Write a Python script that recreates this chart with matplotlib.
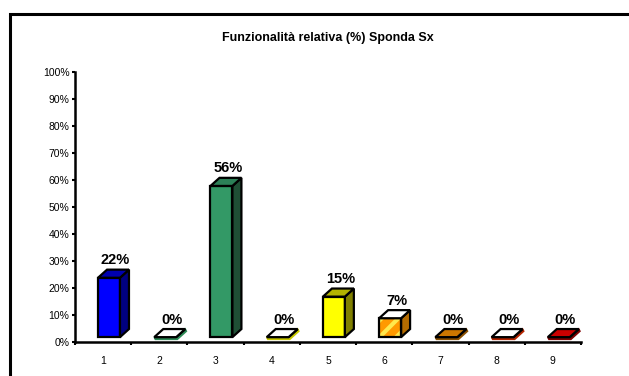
import numpy as np
import matplotlib.pyplot as plt
from matplotlib.patches import Polygon, Rectangle

plt.rcParams['font.family'] = ['Liberation Sans', 'DejaVu Sans']
plt.rcParams['hatch.linewidth'] = 3

categories = [1, 2, 3, 4, 5, 6, 7, 8, 9]
values = [22, 0, 56, 0, 15, 7, 0, 0, 0]
labels = ['22%', '0%', '56%', '0%', '15%', '7%', '0%', '0%', '0%']
front_colors = ['#0000FF', '#1A5FD0', '#339966', '#FFFF00', '#FFFF00', '#FF9900', '#CC7700', '#FF3300', '#CC0000']
side_colors = ['#000080', '#2E8B57', '#1F4F35', '#C8C800', '#808000', '#B36B00', '#8A5000', '#B32400', '#800000']
top_colors = ['#0000B0', '#FFFFFF', '#2C8057', '#FFFFFF', '#B3B300', '#FFFFFF', '#CC7700', '#FFFFFF', '#CC0000']
hatched = [False, False, False, False, False, True, False, False, False]
yticks = np.arange(0, 101, 10)

fig = plt.figure(figsize=(6.29, 3.76), dpi=100)
ax = fig.add_axes([75 / 629, 34 / 376, 506 / 629, 270 / 376])
ax.set_xlim(0.5, 9.5)
ax.set_ylim(0, 100)

# pseudo-3d column geometry (data units)
base = 1.8
off = 0.09
width = 0.39
dx = 0.16
dy = 3.0

for x, v, fc, sc, tc, h in zip(categories, values, front_colors, side_colors, top_colors, hatched):
    x0 = x - off
    x1 = x0 + width
    y0 = base
    y1 = base + v
    front = [(x0, y0), (x1, y0), (x1, y1), (x0, y1)]
    side = [(x1, y0), (x1 + dx, y0 + dy), (x1 + dx, y1 + dy), (x1, y1)]
    top = [(x0, y1), (x1, y1), (x1 + dx, y1 + dy), (x0 + dx, y1 + dy)]
    if v == 0:
        # flat column: coloured sliver under the top face
        ax.add_patch(Polygon([(x0 + 0.02, y0 - 0.8), (x1 + 0.02, y0 - 0.8), (x1 + dx + 0.02, y0 + dy - 0.8),
                              (x1 + dx, y0 + dy), (x1, y0), (x0, y0)],
                             closed=True, facecolor=sc, edgecolor=sc, lw=1.2, zorder=2))
    if h:
        ax.add_patch(Polygon(front, closed=True, facecolor=fc, edgecolor='#FFE84D', hatch='//', lw=0, zorder=3))
        ax.add_patch(Polygon(front, closed=True, fill=False, edgecolor='black', lw=1.6, zorder=4))
    else:
        ax.add_patch(Polygon(front, closed=True, facecolor=fc, edgecolor='black', lw=1.6, zorder=3))
    ax.add_patch(Polygon(side, closed=True, facecolor=sc, edgecolor='black', lw=1.6, zorder=3))
    ax.add_patch(Polygon(top, closed=True, facecolor=tc, edgecolor='black', lw=1.6, zorder=4))

for x, v, lab in zip(categories, values, labels):
    ax.text(x + 0.22, base + v + dy + 3.5, lab, ha='center', va='center',
            fontsize=10.5, fontweight='bold', zorder=5)

ax.set_title('Funzionalità relativa (%) Sponda Sx', fontsize=9, fontweight='bold', pad=22)

for s in ['top', 'right']:
    ax.spines[s].set_visible(False)
ax.spines['left'].set_linewidth(1.8)
ax.spines['bottom'].set_linewidth(1.8)

ax.set_yticks(yticks)
ax.set_yticklabels(['%d%%' % t for t in yticks], fontsize=7.5)
ax.tick_params(axis='y', direction='out', length=2, width=1.5, pad=2)

ax.set_xticks(np.arange(0.5, 10, 1))
ax.set_xticklabels([])
ax.tick_params(axis='x', which='major', direction='out', length=2, width=1.5)
ax.set_xticks(categories, minor=True)
ax.set_xticklabels([str(c) for c in categories], minor=True, fontsize=7.5)
ax.tick_params(axis='x', which='minor', length=0, pad=10)

# chart frame
fig.add_artist(Rectangle((10 / 629, -0.2), 1.2, 0.2 + 1 - 14 / 376, transform=fig.transFigure,
                         fill=False, edgecolor='black', lw=2.2))

fig.savefig('out.png', dpi=100)
